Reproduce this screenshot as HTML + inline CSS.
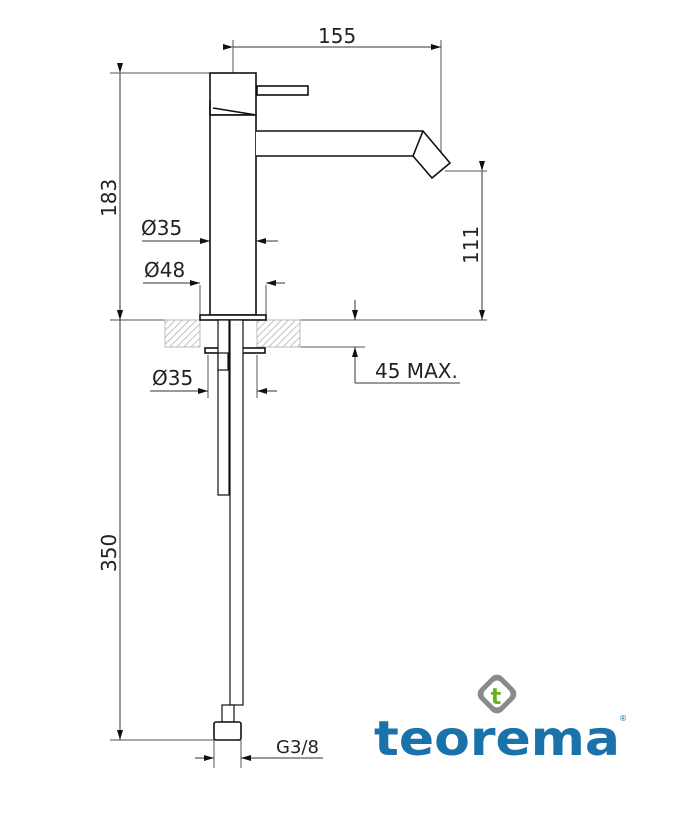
<!DOCTYPE html>
<html><head><meta charset="utf-8"><style>
html,body{margin:0;padding:0;background:#fff;width:674px;height:813px;overflow:hidden}
text{font-family:"DejaVu Sans","Liberation Sans",sans-serif;fill:#222}
</style></head><body>
<svg width="674" height="813" viewBox="0 0 674 813" xmlns="http://www.w3.org/2000/svg">
<defs>
<pattern id="h" width="5" height="5" patternUnits="userSpaceOnUse" patternTransform="rotate(45)">
<line x1="0" y1="0" x2="0" y2="5" stroke="#999" stroke-width="1.2"/></pattern>
<marker id="a" markerWidth="10" markerHeight="6" refX="10" refY="3" orient="auto" markerUnits="userSpaceOnUse">
<path d="M0,0 L10,3 L0,6 Z" fill="#111"/></marker>
</defs>
<g stroke="#555" stroke-width="1" fill="none">
<line x1="233" y1="40" x2="233" y2="73"/>
<line x1="441" y1="40" x2="441" y2="160"/>
<line x1="110" y1="73" x2="210" y2="73"/>
<line x1="110" y1="320" x2="487" y2="320"/>
<line x1="110" y1="740" x2="214" y2="740"/>
<line x1="445" y1="171" x2="487" y2="171"/>
<line x1="300" y1="347" x2="365" y2="347"/>
<line x1="200" y1="285" x2="200" y2="315"/>
<line x1="266" y1="285" x2="266" y2="315"/>
<line x1="208" y1="355" x2="208" y2="398"/>
<line x1="257" y1="355" x2="257" y2="398"/>
<line x1="214" y1="740" x2="214" y2="768"/>
<line x1="241" y1="740" x2="241" y2="768"/>
<line x1="233" y1="47" x2="441" y2="47" marker-start="url(#a)" marker-end="url(#a)" stroke="#333"/>
<line x1="120" y1="73" x2="120" y2="320" marker-start="url(#a)" marker-end="url(#a)" stroke="#333"/>
<line x1="120" y1="320" x2="120" y2="740" marker-start="url(#a)" marker-end="url(#a)" stroke="#333"/>
<line x1="482" y1="171" x2="482" y2="320" marker-start="url(#a)" marker-end="url(#a)" stroke="#333"/>
<line x1="355" y1="300" x2="355" y2="320" marker-end="url(#a)" stroke="#333"/>
<line x1="355" y1="383" x2="355" y2="347" marker-end="url(#a)" stroke="#333"/>
<line x1="355" y1="383" x2="460" y2="383" stroke="#333"/>
<line x1="142" y1="241" x2="210" y2="241" marker-end="url(#a)" stroke="#333"/>
<line x1="278" y1="241" x2="256" y2="241" marker-end="url(#a)" stroke="#333"/>
<line x1="143" y1="283" x2="200" y2="283" marker-end="url(#a)" stroke="#333"/>
<line x1="285" y1="283" x2="266" y2="283" marker-end="url(#a)" stroke="#333"/>
<line x1="150" y1="391" x2="208" y2="391" marker-end="url(#a)" stroke="#333"/>
<line x1="277" y1="391" x2="257" y2="391" marker-end="url(#a)" stroke="#333"/>
<line x1="195" y1="758" x2="214" y2="758" marker-end="url(#a)" stroke="#333"/>
<line x1="323" y1="758" x2="241" y2="758" marker-end="url(#a)" stroke="#333"/>
</g>
<rect x="165" y="320" width="35" height="27" fill="url(#h)" stroke="#bbb"/>
<rect x="257" y="320" width="43" height="27" fill="url(#h)" stroke="#bbb"/>
<g stroke="#111" stroke-width="1.6" fill="#fff">
<rect x="210" y="73" width="46" height="42"/>
<path d="M210,115 L210,100 M213,108 L256,115" />
<rect x="257" y="86" width="51" height="9"/>
<rect x="210" y="115" width="46" height="200"/>
<path d="M256,131 L423,131 L450,163 L432,178 L413,156 L256,156" />
<line x1="423" y1="131" x2="413" y2="156"/>
<rect x="200" y="315" width="66" height="5"/>
<rect x="205" y="348" width="60" height="5"/>
<rect x="218" y="320" width="11" height="175" stroke-width="1.2"/>
<rect x="230" y="320" width="13" height="385" stroke-width="1.2"/>
<rect x="218" y="353" width="10" height="17" stroke-width="1.2"/>
<rect x="222" y="705" width="12" height="17" stroke-width="1.2"/>
<rect x="214" y="722" width="27" height="18" rx="2"/>
</g>
<text x="318" y="43" font-size="20">155</text>
<text transform="translate(116,217) rotate(-90)" font-size="20">183</text>
<text transform="translate(116,572) rotate(-90)" font-size="20">350</text>
<text transform="translate(478,264) rotate(-90)" font-size="20">111</text>
<text x="141" y="235" font-size="20">Ø35</text>
<text x="144" y="277" font-size="20">Ø48</text>
<text x="152" y="385" font-size="20">Ø35</text>
<text x="375" y="378" font-size="20">45 MAX.</text>
<text x="276" y="753" font-size="18">G3/8</text>
<g transform="translate(497,694) rotate(45)">
<rect x="-16" y="-16" width="32" height="32" rx="8" fill="#8a8a8a"/>
<rect x="-11" y="-11" width="22" height="22" rx="5" fill="#fff"/>
</g>
<text x="496" y="704" font-size="22" font-weight="bold" style="fill:#6ab023" text-anchor="middle">t</text>
<text x="374" y="755" font-size="48" font-weight="bold" style="fill:#1a72aa" textLength="246" lengthAdjust="spacingAndGlyphs">teorema</text>
<text x="619" y="721" font-size="8" style="fill:#1a72aa">®</text>
</svg>
</body></html>
